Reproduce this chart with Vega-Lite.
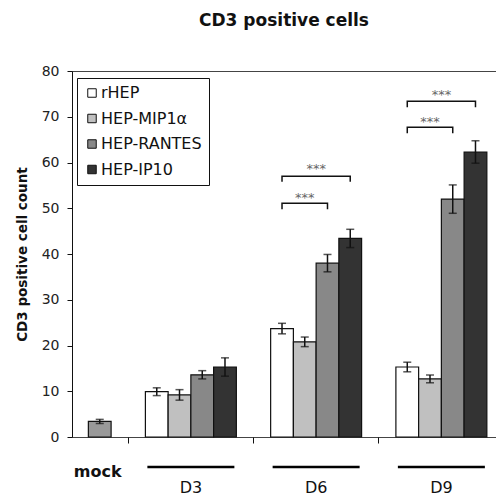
{
  "$schema": "https://vega.github.io/schema/vega-lite/v6.json",
  "width": 424,
  "height": 366,
  "autosize": "none",
  "padding": {"left": 72, "top": 71, "right": 0, "bottom": 58},
  "background": "white",
  "config": {
    "view": {"stroke": "#444", "strokeWidth": 1},
    "font": "DejaVu Sans"
  },
  "title": {
    "text": "CD3 positive cells",
    "font": "DejaVu Sans",
    "fontSize": 17,
    "fontWeight": "bold",
    "color": "#111",
    "anchor": "middle",
    "offset": 34
  },
  "datasets": {
    "counts": [
      {"day": "mock", "series": "mock", "count": 3.4, "sem": 0.45},
      {"day": "D3", "series": "rHEP", "count": 9.9, "sem": 0.85},
      {"day": "D3", "series": "HEP-MIP1α", "count": 9.2, "sem": 1.15},
      {"day": "D3", "series": "HEP-RANTES", "count": 13.6, "sem": 0.9},
      {"day": "D3", "series": "HEP-IP10", "count": 15.3, "sem": 2.0},
      {"day": "D6", "series": "rHEP", "count": 23.7, "sem": 1.15},
      {"day": "D6", "series": "HEP-MIP1α", "count": 20.8, "sem": 1.05},
      {"day": "D6", "series": "HEP-RANTES", "count": 38.0, "sem": 1.9},
      {"day": "D6", "series": "HEP-IP10", "count": 43.4, "sem": 2.0},
      {"day": "D9", "series": "rHEP", "count": 15.3, "sem": 1.05},
      {"day": "D9", "series": "HEP-MIP1α", "count": 12.7, "sem": 0.85},
      {"day": "D9", "series": "HEP-RANTES", "count": 52.0, "sem": 3.1},
      {"day": "D9", "series": "HEP-IP10", "count": 62.3, "sem": 2.45}
    ],
    "brackets": [
      {"pair": "D6 rHEP vs RANTES", "day": "D6", "series": "rHEP", "level": 49.8, "vertex": 1},
      {"pair": "D6 rHEP vs RANTES", "day": "D6", "series": "rHEP", "level": 51.1, "vertex": 2},
      {"pair": "D6 rHEP vs RANTES", "day": "D6", "series": "HEP-RANTES", "level": 51.1, "vertex": 3},
      {"pair": "D6 rHEP vs RANTES", "day": "D6", "series": "HEP-RANTES", "level": 49.8, "vertex": 4},
      {"pair": "D6 rHEP vs IP10", "day": "D6", "series": "rHEP", "level": 55.8, "vertex": 1},
      {"pair": "D6 rHEP vs IP10", "day": "D6", "series": "rHEP", "level": 57.0, "vertex": 2},
      {"pair": "D6 rHEP vs IP10", "day": "D6", "series": "HEP-IP10", "level": 57.0, "vertex": 3},
      {"pair": "D6 rHEP vs IP10", "day": "D6", "series": "HEP-IP10", "level": 55.8, "vertex": 4},
      {"pair": "D9 rHEP vs RANTES", "day": "D9", "series": "rHEP", "level": 66.4, "vertex": 1},
      {"pair": "D9 rHEP vs RANTES", "day": "D9", "series": "rHEP", "level": 67.7, "vertex": 2},
      {"pair": "D9 rHEP vs RANTES", "day": "D9", "series": "HEP-RANTES", "level": 67.7, "vertex": 3},
      {"pair": "D9 rHEP vs RANTES", "day": "D9", "series": "HEP-RANTES", "level": 66.4, "vertex": 4},
      {"pair": "D9 rHEP vs IP10", "day": "D9", "series": "rHEP", "level": 72.1, "vertex": 1},
      {"pair": "D9 rHEP vs IP10", "day": "D9", "series": "rHEP", "level": 73.4, "vertex": 2},
      {"pair": "D9 rHEP vs IP10", "day": "D9", "series": "HEP-IP10", "level": 73.4, "vertex": 3},
      {"pair": "D9 rHEP vs IP10", "day": "D9", "series": "HEP-IP10", "level": 72.1, "vertex": 4}
    ],
    "stars": [
      {"day": "D6", "vs": "HEP-RANTES", "level": 53.0, "label": "***"},
      {"day": "D6", "vs": "HEP-IP10", "level": 59.2, "label": "***"},
      {"day": "D9", "vs": "HEP-RANTES", "level": 69.6, "label": "***"},
      {"day": "D9", "vs": "HEP-IP10", "level": 75.4, "label": "***"}
    ],
    "days": [
      {"day": "D3"},
      {"day": "D6"},
      {"day": "D9"}
    ]
  },
  "resolve": {"axis": {"x": "independent", "y": "independent"}},
  "layer": [
    {
      "data": {"name": "counts"},
      "transform": [{"filter": "datum.day !== 'mock'"}],
      "mark": {"type": "bar", "stroke": "#111", "strokeWidth": 1.2},
      "encoding": {
        "x": {
          "field": "day",
          "type": "nominal",
          "scale": {"domain": ["mock", "D3", "D6", "D9"], "range": [-69, 432], "paddingInner": 0, "paddingOuter": 0},
          "axis": {"orient": "bottom", "values": ["D3", "D6", "D9"], "bandPosition": 0, "labels": false, "domain": false, "ticks": true, "tickSize": 6, "tickColor": "#111", "tickWidth": 1, "title": null}
        },
        "xOffset": {
          "field": "series",
          "type": "nominal",
          "scale": {"domain": ["rHEP", "HEP-MIP1α", "HEP-RANTES", "HEP-IP10"], "paddingInner": 0, "paddingOuter": 0.754}
        },
        "y": {
          "field": "count",
          "type": "quantitative",
          "scale": {"domain": [0, 80], "nice": false},
          "axis": {
            "orient": "left",
            "values": [0, 10, 20, 30, 40, 50, 60, 70, 80],
            "grid": false,
            "tickSize": 5,
            "tickColor": "#111",
            "domainColor": "#111",
            "labelFont": "DejaVu Sans",
            "labelFontSize": 14,
            "labelColor": "#222",
            "labelPadding": 8,
            "title": "CD3 positive cell count",
            "titleFont": "DejaVu Sans",
            "titleFontSize": 13.5,
            "titleFontWeight": "bold",
            "titleColor": "#111",
            "titlePadding": 12
          }
        },
        "color": {
          "field": "series",
          "type": "nominal",
          "scale": {"domain": ["rHEP", "HEP-MIP1α", "HEP-RANTES", "HEP-IP10"], "range": ["#ffffff", "#c0c0c0", "#888888", "#333333"]},
          "legend": {
            "orient": "none",
            "legendX": 5,
            "legendY": 7,
            "title": null,
            "strokeColor": "#111",
            "fillColor": "white",
            "padding": 7,
            "rowPadding": 9.5,
            "symbolType": "square",
            "symbolSize": 72,
            "symbolStrokeColor": "#111",
            "symbolStrokeWidth": 1,
            "symbolOpacity": 1,
            "labelFont": "DejaVu Sans",
            "labelFontSize": 16,
            "labelColor": "#111",
            "labelOffset": 1,
            "labelLimit": 200
          }
        }
      }
    },
    {
      "data": {"name": "counts"},
      "transform": [{"filter": "datum.day !== 'mock'"}],
      "mark": {"type": "errorbar", "ticks": {"size": 8, "thickness": 1.5, "color": "#111"}, "rule": {"strokeWidth": 1.5, "color": "#111"}},
      "encoding": {
        "x": {"field": "day", "type": "nominal", "axis": null},
        "xOffset": {"field": "series", "type": "nominal"},
        "y": {"field": "count", "type": "quantitative", "axis": null},
        "yError": {"field": "sem"}
      }
    },
    {
      "data": {"name": "counts"},
      "transform": [{"filter": "datum.day === 'mock'"}],
      "mark": {"type": "bar", "stroke": "#111", "strokeWidth": 1.2, "color": "#999999"},
      "encoding": {
        "x": {"field": "day", "type": "nominal", "axis": null},
        "xOffset": {"datum": "HEP-IP10"},
        "y": {"field": "count", "type": "quantitative", "axis": null}
      }
    },
    {
      "data": {"name": "counts"},
      "transform": [{"filter": "datum.day === 'mock'"}],
      "mark": {"type": "errorbar", "ticks": {"size": 8, "thickness": 1.5, "color": "#111"}, "rule": {"strokeWidth": 1.5, "color": "#111"}},
      "encoding": {
        "x": {"field": "day", "type": "nominal", "axis": null},
        "xOffset": {"datum": "HEP-IP10"},
        "y": {"field": "count", "type": "quantitative", "axis": null},
        "yError": {"field": "sem"}
      }
    },
    {
      "data": {"name": "brackets"},
      "mark": {"type": "line", "color": "#111", "strokeWidth": 1.5},
      "encoding": {
        "x": {"field": "day", "type": "nominal", "axis": null},
        "xOffset": {"field": "series", "type": "nominal"},
        "y": {"field": "level", "type": "quantitative", "axis": null},
        "detail": {"field": "pair"},
        "order": {"field": "vertex"}
      }
    },
    {
      "data": {"name": "stars"},
      "transform": [{"filter": "datum.vs === 'HEP-RANTES'"}],
      "mark": {"type": "text", "font": "DejaVu Sans", "fontSize": 13, "color": "#666", "baseline": "middle", "dy": 3},
      "encoding": {
        "x": {"field": "day", "type": "nominal", "axis": null},
        "xOffset": {"datum": "HEP-MIP1α"},
        "y": {"field": "level", "type": "quantitative", "axis": null},
        "text": {"field": "label"}
      }
    },
    {
      "data": {"name": "stars"},
      "transform": [{"filter": "datum.vs === 'HEP-IP10'"}],
      "mark": {"type": "text", "font": "DejaVu Sans", "fontSize": 13, "color": "#666", "baseline": "middle", "dy": 3},
      "encoding": {
        "x": {"field": "day", "type": "nominal", "axis": null},
        "y": {"field": "level", "type": "quantitative", "axis": null},
        "text": {"field": "label"}
      }
    },
    {
      "data": {"name": "days"},
      "mark": {"type": "tick", "orient": "horizontal", "size": 87, "thickness": 2.5, "color": "#000", "opacity": 1},
      "encoding": {
        "x": {
          "field": "day",
          "type": "nominal",
          "axis": {
            "orient": "bottom",
            "values": ["mock", "D3", "D6", "D9"],
            "ticks": false,
            "domain": false,
            "title": null,
            "labelAngle": 0,
            "labelOverlap": false,
            "labelFont": "DejaVu Sans",
            "labelFontSize": 16,
            "labelColor": "#111",
            "labelBaseline": "top",
            "labelPadding": 26,
            "labelLineHeight": 16,
            "labelExpr": "datum.value === 'mock' ? datum.value : ['', datum.value]",
            "labelFontWeight": {"condition": {"test": "datum.value === 'mock'", "value": "bold"}, "value": "normal"},
            "labelOffset": {"condition": {"test": "datum.value === 'mock'", "value": 32}, "value": 0}
          }
        },
        "y": {"datum": -6.56, "type": "quantitative", "axis": null}
      }
    }
  ]
}
